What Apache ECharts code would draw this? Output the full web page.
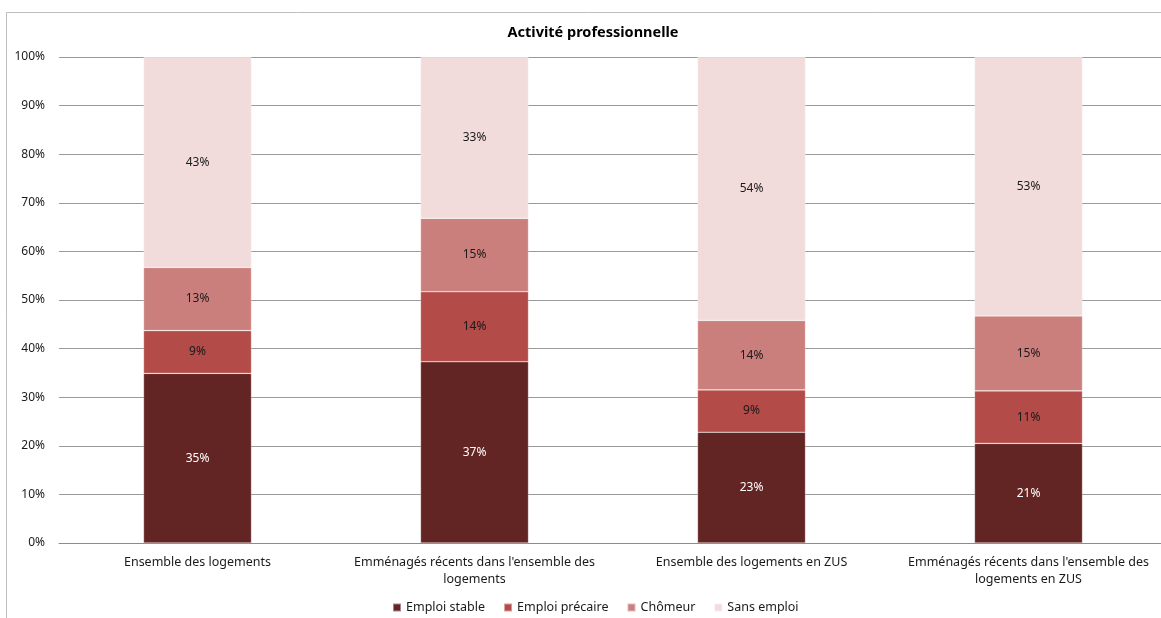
<!DOCTYPE html>
<html>
<head>
<meta charset="utf-8">
<script src="https://cdn.jsdelivr.net/npm/echarts@6/dist/echarts.min.js"></script>
<style>
html,body{margin:0;padding:0;background:#fff;overflow:hidden;}
#c{width:1170px;height:618px;}
</style>
</head>
<body>
<div id="c"></div>
<script>
var categories = [
  "Ensemble des logements",
  "Emménagés récents dans l'ensemble des\nlogements",
  "Ensemble des logements en ZUS",
  "Emménagés récents dans l'ensemble des\nlogements en ZUS"
];
var seriesNames = ["Emploi stable", "Emploi précaire", "Chômeur", "Sans emploi"];
var emploiStable   = [34.9, 37.3, 22.8, 20.5];
var emploiPrecaire = [8.8, 14.4, 8.7, 10.8];
var chomeur        = [13.0, 15.1, 14.3, 15.4];
var sansEmploi     = [43.3, 33.2, 54.2, 53.3];
var yTicks = [0, 10, 20, 30, 40, 50, 60, 70, 80, 90, 100];

var colors = ["#632523", "#b34b48", "#cb7f7d", "#f2dcdb"];
var labelColors = ["#ffffff", "#1a1a1a", "#1a1a1a", "#1a1a1a"];
var FONT = "Noto Sans";
var dataSets = [emploiStable, emploiPrecaire, chomeur, sansEmploi];

var chart = echarts.init(document.getElementById('c'), null, {renderer: 'canvas'});
var series = dataSets.map(function (d, i) {
  return {
    name: seriesNames[i],
    type: 'bar',
    stack: 'total',
    barWidth: 108,
    data: d,
    itemStyle: {color: colors[i], borderColor: 'rgba(255,255,255,0.45)', borderWidth: 0.6},
    label: {
      show: true,
      position: 'inside',
      color: labelColors[i],
      fontFamily: FONT,
      fontSize: 12,
      formatter: function (p) { return Math.round(p.value) + '%'; }
    },
    emphasis: {disabled: true}
  };
});

chart.setOption({
  animation: false,
  textStyle: {fontFamily: FONT},
  title: {
    text: 'Activité professionnelle',
    left: 588,
    top: 20,
    textAlign: 'center',
    textStyle: {fontFamily: FONT, fontSize: 14.5, fontWeight: 'bold', color: '#000'}
  },
  graphic: [{
    type: 'rect',
    shape: {x: 6.5, y: 12.5, width: 1200, height: 700},
    style: {fill: 'none', stroke: '#bdbdbd', lineWidth: 1},
    silent: true,
    z: -1
  }],
  legend: {
    bottom: -1,
    left: 387,
    itemWidth: 8,
    itemHeight: 8,
    itemGap: 18,
    icon: 'rect',
    textStyle: {fontFamily: FONT, fontSize: 12.5, color: '#1a1a1a'},
    data: seriesNames
  },
  grid: {left: 59, top: 57, right: 3, bottom: 75, containLabel: false},
  xAxis: {
    type: 'category',
    data: categories,
    axisLine: {lineStyle: {color: '#8c8c8c'}},
    axisTick: {show: false},
    axisLabel: {fontFamily: FONT, fontSize: 12.5, color: '#1a1a1a', lineHeight: 17, margin: 11, interval: 0}
  },
  yAxis: {
    type: 'value',
    min: 0,
    max: 100,
    interval: 10,
    axisLine: {show: false},
    axisTick: {show: false},
    splitLine: {lineStyle: {color: '#9a9a9a'}},
    axisLabel: {
      fontFamily: FONT, fontSize: 12, color: '#1a1a1a', margin: 14,
      formatter: function (v) { return yTicks.indexOf(v) >= 0 ? v + '%' : ''; }
    }
  },
  series: series
});
</script>
</body>
</html>
